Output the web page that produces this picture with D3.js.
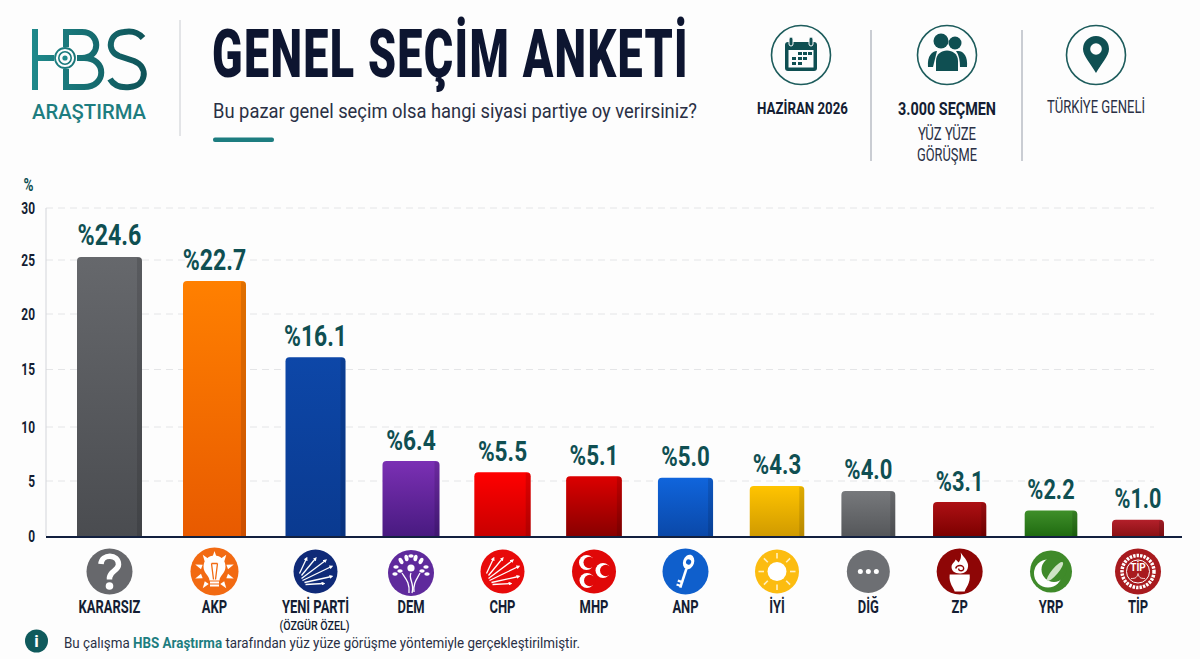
<!DOCTYPE html>
<html lang="tr">
<head>
<meta charset="utf-8">
<title>Genel Seçim Anketi</title>
<script src="https://cdn.jsdelivr.net/npm/d3@7"></script>
<style>
    html, body { margin: 0; padding: 0; background: #fdfdfd; overflow: hidden; }
    text { font-family: "Roboto", sans-serif; }
</style>
</head>
<body>
<div id="container"></div>
<script>
"use strict";

// chart data
const parties = ["KARARSIZ", "AKP", "YENİ PARTİ", "DEM", "CHP", "MHP", "ANP", "İYİ", "DİĞ", "ZP", "YRP", "TİP"];
// printed labels
const printed = [24.6, 22.7, 16.1, 6.4, 5.5, 5.1, 5.0, 4.3, 4.0, 3.1, 2.2, 1.0];
// bar heights as read against the axis, they sit a little above the printed numbers
const drawn = [25.3, 23.05, 16.1, 6.85, 5.8, 5.45, 5.3, 4.55, 4.1, 3.1, 2.35, 1.5];
const yTicks = [0, 5, 10, 15, 20, 25, 30];
const barTop = ["#66686c", "#ff8000", "#0d47a8", "#7b30b4", "#ff0000", "#dc0000", "#1065dc", "#ffc400", "#77797c", "#ad1014", "#3f8f2a", "#b3202a"];
const barBottom = ["#4a4c50", "#e85a00", "#0a3a90", "#481a80", "#c80000", "#880000", "#0a48a8", "#d09a00", "#55575a", "#7c0000", "#1f6a10", "#8a1014"];
const iconColor = ["#67686c", "#f26a12", "#0f2a78", "#5f2a9c", "#e80a0a", "#e00808", "#0f5fcc", "#fcbc10", "#6d6f73", "#8e0606", "#3f8a2a", "#a81a1e"];

const teal = "#1d7d80", dark = "#0f4f52", ink = "#141d33", soft = "#2a3045";

const svg = d3.select("#container").append("svg")
    .attr("width", 1200)
    .attr("height", 659)
    .style("display", "block");

const defs = svg.append("defs");

// the picture is slightly uneven so both scales get a few anchors
const y = d3.scaleLinear().domain(yTicks).range([536.5, 481, 427, 369.5, 314, 260, 208]);
const x = d3.scaleLinear().domain([0, 1, 2, 3, 7, 10, 11]).range([109.5, 214.5, 315.5, 411, 777, 1051, 1138]);
const barWidth = d3.scaleLinear().domain([0, 1, 2, 3, 11]).range([65, 63, 60, 57, 52]);
const labelSize = d3.scaleLinear().domain([0, 11]).range([29, 27]);

// no condensed face is installed, so text gets squeezed to a share of its natural width
function squeeze(selection, factor) {
    selection.each(function () {
        d3.select(this)
            .attr("textLength", this.getComputedTextLength() * factor)
            .attr("lengthAdjust", "spacingAndGlyphs");
    });
    return selection;
}

// text helper, len squeezes the text to the measured width
function label(parent, str, px, py, size, weight, fill, anchor, len) {
    const t = parent.append("text")
        .attr("x", px)
        .attr("y", py)
        .attr("font-size", size)
        .attr("font-weight", weight)
        .attr("fill", fill)
        .attr("text-anchor", anchor)
        .text(str);
    if (len) t.attr("textLength", len).attr("lengthAdjust", "spacingAndGlyphs");
    return t;
}

// logo
const logo = svg.append("g").attr("fill", "none").attr("stroke-width", 6);
const logoGrad = defs.append("linearGradient").attr("id", "logoGrad")
    .attr("gradientUnits", "userSpaceOnUse").attr("x1", 30).attr("x2", 148).attr("y1", 0).attr("y2", 0);
logoGrad.append("stop").attr("offset", 0).attr("stop-color", "#1f8a8c");
logoGrad.append("stop").attr("offset", 1).attr("stop-color", "#0e5257");
logo.attr("stroke", "url(#logoGrad)");
logo.append("path").attr("d", "M35 29V90M35 58H54");
logo.append("path").attr("d", "M66 29V47M66 69V87H84C107 87 107 58 84 58H77M66 32H82C101 32 101 58 82 58");
logo.append("path").attr("d", "M143 38C137 31 129 31 124 32C109 33 106 51 119 56L134 61C149 67 146 86 130 87C121 88 114 86 110 79");
logo.append("circle").attr("cx", 65).attr("cy", 58).attr("r", 10).attr("stroke-width", 1.8);
logo.append("circle").attr("cx", 65).attr("cy", 58).attr("r", 6.2).attr("stroke-width", 1.6);
logo.append("circle").attr("cx", 65).attr("cy", 58).attr("r", 2.6).attr("stroke", "none").attr("fill", "#1f8a8c");
label(svg, "ARAŞTIRMA", 32, 119, 21, 500, teal, "start", 114);

svg.append("line").attr("x1", 180).attr("x2", 180).attr("y1", 20).attr("y2", 136)
    .attr("stroke", "#c9ccd1").attr("stroke-width", 1);

// title block
label(svg, "GENEL SEÇİM ANKETİ", 212, 77, 67, 900, "#0d1530", "start", 477).attr("letter-spacing", 2);
label(svg, "Bu pazar genel seçim olsa hangi siyasi partiye oy verirsiniz?", 213, 118, 21, 400, soft, "start", 484);
svg.append("rect").attr("x", 213).attr("y", 137.5).attr("width", 61).attr("height", 4.5).attr("rx", 2).attr("fill", teal);

// header info icons
function infoCircle(cx) {
    const g = svg.append("g").attr("transform", `translate(${cx},55)`);
    g.append("circle").attr("r", 29.5).attr("fill", "none").attr("stroke", "#1d5c5c").attr("stroke-width", 1.6);
    return g;
}

const cal = infoCircle(801);
cal.append("rect").attr("x", -16).attr("y", -13).attr("width", 32).attr("height", 29).attr("rx", 3).attr("fill", dark);
cal.append("rect").attr("x", -12.5).attr("y", -5).attr("width", 25).attr("height", 17.5).attr("fill", "#fdfdfd");
[-10, 10].forEach((dx) => {
    cal.append("rect").attr("x", dx - 2).attr("y", -18).attr("width", 4).attr("height", 9).attr("rx", 2)
        .attr("fill", dark).attr("stroke", "#fdfdfd");
});
[[-2, -3], [3, -3], [8, -3], [-8, 2], [-2, 2], [3, 2], [-8, 7], [-2, 7]].forEach(([dx, dy]) => {
    cal.append("rect").attr("x", dx - 1).attr("y", dy).attr("width", 4).attr("height", 3).attr("fill", dark);
});

const ppl = infoCircle(947);
ppl.append("circle").attr("cx", -6).attr("cy", -14).attr("r", 7.5).attr("fill", dark);
ppl.append("circle").attr("cx", 8).attr("cy", -12).attr("r", 6.5).attr("fill", dark);
ppl.append("path").attr("fill", dark).attr("d", "M-19 12C-20 1 -15 -4 -10 -4L-14 12Z");
ppl.append("path").attr("fill", dark).attr("d", "M11 -4C17 -4 21 2 20 12H13C13 6 12 0 9 -4Z");
ppl.append("path").attr("fill", dark).attr("d", "M-11 16V6C-11 -8 11 -8 11 6V16Z");

const pin = infoCircle(1096);
pin.append("path").attr("fill", dark).attr("d", "M0 18C-5 9 -13 1 -13 -6A13 13 0 0 1 13 -6C13 1 5 9 0 18Z");
pin.append("circle").attr("cy", -6).attr("r", 5.8).attr("fill", "#fdfdfd");

label(svg, "HAZİRAN 2026", 802.5, 114, 17, 700, ink, "middle", 91);
label(svg, "3.000 SEÇMEN", 947, 115, 18, 700, ink, "middle", 98);
label(svg, "YÜZ YÜZE", 947, 140, 18, 400, soft, "middle", 58);
label(svg, "GÖRÜŞME", 947, 161, 18, 400, soft, "middle", 60);
label(svg, "TÜRKİYE GENELİ", 1096, 113, 18, 400, soft, "middle", 98);
[871, 1022].forEach((sx) => {
    svg.append("line").attr("x1", sx).attr("x2", sx).attr("y1", 30).attr("y2", 161)
        .attr("stroke", "#b9bdc5").attr("stroke-width", 1.5);
});

// grid and y axis
svg.append("g")
    .selectAll("line")
    .data(yTicks.filter((d) => d > 0))
    .join("line")
    .attr("x1", 46)
    .attr("x2", 1154)
    .attr("y1", (d) => y(d))
    .attr("y2", (d) => y(d))
    .attr("stroke", "#e4e5e7")
    .attr("stroke-dasharray", "7 5");

svg.append("line").attr("x1", 46).attr("x2", 46).attr("y1", 208).attr("y2", 536)
    .attr("stroke", "#d3d5da").attr("stroke-width", 1);

const yAxis = svg.append("g")
    .attr("transform", "translate(35,0)")
    .call(d3.axisLeft(y).tickValues(yTicks).tickSize(0).tickPadding(0).tickFormat(d3.format("d")));
yAxis.select(".domain").remove();
yAxis.selectAll("text")
    .attr("font-size", 17)
    .attr("font-weight", 700)
    .attr("fill", ink)
    .style("font-family", "Roboto")
    .call(squeeze, 0.7);

label(svg, "%", 28.5, 191, 18, 700, dark, "middle").call(squeeze, 0.75);

// bars
const idx = d3.range(parties.length);
idx.forEach((i) => {
    const grad = defs.append("linearGradient").attr("id", `bar${i}`)
        .attr("x1", 0).attr("x2", 0).attr("y1", 0).attr("y2", 1);
    grad.append("stop").attr("offset", 0).attr("stop-color", barTop[i]);
    grad.append("stop").attr("offset", 1).attr("stop-color", barBottom[i]);
});

function barPath(i, left, right) {
    const top = y(drawn[i]), r = 4;
    return `M${left} ${y(0)}V${top + r}Q${left} ${top} ${left + r} ${top}H${right - r}Q${right} ${top} ${right} ${top + r}V${y(0)}Z`;
}

const bars = svg.append("g").selectAll("g").data(idx).join("g");
bars.append("path")
    .attr("d", (i) => barPath(i, x(i) - barWidth(i) / 2, x(i) + barWidth(i) / 2))
    .attr("fill", (i) => `url(#bar${i})`);
// darker strip along the right side
bars.append("path")
    .attr("d", (i) => {
        const right = x(i) + barWidth(i) / 2, top = y(drawn[i]);
        return `M${right - 5} ${y(0)}V${top + 1}H${right - 4}Q${right} ${top} ${right} ${top + 4}V${y(0)}Z`;
    })
    .attr("fill", "#000")
    .attr("fill-opacity", 0.12);

bars.append("text")
    .attr("x", (i) => x(i))
    .attr("y", (i) => y(drawn[i]) - 11.5)
    .attr("text-anchor", "middle")
    .attr("font-size", (i) => labelSize(i))
    .attr("font-weight", 700)
    .attr("fill", dark)
    .text((i) => "%" + printed[i].toFixed(1))
    .call(squeeze, 0.8);

// base line
svg.append("line").attr("x1", 46).attr("x2", 1182).attr("y1", 537).attr("y2", 537)
    .attr("stroke", "#12203f").attr("stroke-width", 2);

// party icons, every one is drawn around its own centre
const white = "#fff";

defs.append("marker").attr("id", "tip")
    .attr("viewBox", "0 0 6 6").attr("refX", 3).attr("refY", 3)
    .attr("markerWidth", 3).attr("markerHeight", 3).attr("orient", "auto")
    .append("path").attr("d", "M0 0L6 3L0 6Z").attr("fill", white);

function sweep(g) {
    // the six arrows of the CHP style emblem
    [[-16, 2, -9, -13], [-14, 4, 0, -13], [-14, 7, 10, -11], [-13, 9, 16, -5], [-11, 11, 16, 5], [-10, 13, 8, 12]]
        .forEach(([x1, y1, x2, y2]) => {
            g.append("line")
                .attr("x1", x1).attr("y1", y1)
                .attr("x2", x2).attr("y2", y2)
                .attr("stroke", white).attr("stroke-width", 1.3)
                .attr("marker-end", "url(#tip)");
        });
}

function crescent(g, cx, cy, col) {
    g.append("circle").attr("cx", cx).attr("cy", cy).attr("r", 7.5).attr("fill", white);
    g.append("circle").attr("cx", cx + 2.8).attr("cy", cy).attr("r", 5.8).attr("fill", col);
}

const iconDraw = {
    "KARARSIZ": (g) => {
        g.append("path").attr("fill", "none").attr("stroke", white).attr("stroke-width", 5.5)
            .attr("d", "M-8.5 -7.5C-8 -18 9 -18 9 -7C9 -1 1 -1 0 6V8");
        g.append("circle").attr("cy", 14.5).attr("r", 3.8).attr("fill", white);
    },
    "AKP": (g) => {
        [-90, -55, -125, -20, -160, 20, 160, 55, 125].forEach((a) => {
            g.append("g").attr("transform", `rotate(${a + 90})`)
                .append("path").attr("d", "M-2.4 -13.5L0 -20.5L2.4 -13.5Z").attr("fill", white);
        });
        g.append("path").attr("fill", white)
            .attr("d", "M-5 9C-5 4 -11 2 -11 -5A11 11 0 0 1 11 -5C11 2 5 4 5 9Z");
        g.append("path").attr("fill", "none").attr("stroke", "#f26a12").attr("stroke-width", 1.3)
            .attr("d", "M-3 -8L-1 8M3 -8L1 8M-3 -8H3");
        g.append("rect").attr("x", -4.5).attr("y", 10).attr("width", 9).attr("height", 2).attr("fill", white);
        g.append("rect").attr("x", -4.5).attr("y", 13).attr("width", 9).attr("height", 2).attr("fill", white);
    },
    "YENİ PARTİ": sweep,
    "DEM": (g) => {
        g.append("circle").attr("cy", -5).attr("r", 3.6).attr("fill", white);
        [-4, -10, 10, 4].forEach((a, k) => {
            g.append("ellipse").attr("cx", [-4.5, -10, 10, 4.5][k]).attr("cy", [-15, -12, -12, -15][k])
                .attr("rx", 2).attr("ry", 3.4).attr("fill", white)
                .attr("transform", `rotate(${a * 3} ${[-4.5, -10, 10, 4.5][k]} ${[-15, -12, -12, -15][k]})`);
        });
        [[0, -17], [-15, -6], [15, -6], [-16, 1], [16, 1], [-11, -2], [11, -2]].forEach(([ex, ey]) => {
            g.append("ellipse").attr("cx", ex).attr("cy", ey).attr("rx", 2.7).attr("ry", 1.8).attr("fill", white);
        });
        g.append("path").attr("fill", "none").attr("stroke", white).attr("stroke-width", 1.3)
            .attr("d", "M-2 20C-1 10 -5 6 -9 0M1 20C4 10 -3 6 0 0M3 19C2 10 6 6 9 0");
    },
    "CHP": sweep,
    "MHP": (g) => {
        crescent(g, -7.5, -9, iconColor[5]);
        crescent(g, -7, 9, iconColor[5]);
        crescent(g, 9, -1, iconColor[5]);
    },
    "ANP": (g) => {
        g.append("g").attr("transform", "rotate(18)").call((k) => {
            k.append("ellipse").attr("cy", -10).attr("rx", 5.5).attr("ry", 7.5).attr("fill", white);
            k.append("circle").attr("cy", -10).attr("r", 2.6).attr("fill", iconColor[6]);
            k.append("rect").attr("x", -1.3).attr("y", -3).attr("width", 2.6).attr("height", 20).attr("fill", white);
            k.append("rect").attr("x", -4.5).attr("y", 10).attr("width", 4).attr("height", 2.2).attr("fill", white);
            k.append("rect").attr("x", -4.5).attr("y", 14).attr("width", 4).attr("height", 2.2).attr("fill", white);
        });
    },
    "İYİ": (g) => {
        g.append("circle").attr("r", 9.5).attr("fill", white);
        d3.range(8).forEach((k) => {
            g.append("rect").attr("x", -0.8).attr("y", -18.5).attr("width", 1.6).attr("height", 5.5)
                .attr("fill", "#fff0c0").attr("transform", `rotate(${k * 45})`);
        });
    },
    "DİĞ": (g) => {
        [-8, 0, 8].forEach((dx) => g.append("circle").attr("cx", dx).attr("r", 2.5).attr("fill", white));
    },
    "ZP": (g) => {
        g.append("path").attr("fill", white).attr("d", "M-10 3H10C11 12 6 16 5 20H-5C-6 16 -11 12 -10 3Z");
        g.append("path").attr("fill", white).attr("d", "M1 -19C5 -13 10 -9 8 -3C7 1 3 2 0 2C-5 2 -9 -1 -8 -6C-7 -9 -5 -9 -4 -12C-2 -10 -1 -9 -1 -9C1 -12 2 -15 1 -19Z");
        g.append("path").attr("fill", "none").attr("stroke", iconColor[9]).attr("stroke-width", 1.4)
            .attr("d", "M-4 -3C-3 -7 4 -7 4 -3C4 0 -1 0 -1 -3");
    },
    "YRP": (g) => {
        g.append("circle").attr("cx", -3).attr("cy", 2).attr("r", 14).attr("fill", white);
        g.append("circle").attr("cx", 3).attr("cy", -2).attr("r", 12.5).attr("fill", iconColor[10]);
        g.append("g").attr("transform", "translate(4,0) rotate(40)")
            .append("ellipse").attr("rx", 3.2).attr("ry", 12).attr("fill", "#cfe3c6");
    },
    "TİP": (g) => {
        g.append("circle").attr("r", 16).attr("fill", "none").attr("stroke", white)
            .attr("stroke-width", 3.5).attr("stroke-dasharray", "2.4 1.1");
        g.append("circle").attr("r", 11.5).attr("fill", iconColor[11]).attr("stroke", white);
        g.append("text").attr("y", -0.5).attr("text-anchor", "middle").attr("font-size", 10)
            .attr("font-weight", 700).attr("fill", white).text("TİP");
        g.append("path").attr("fill", "none").attr("stroke", white).attr("stroke-width", 0.8)
            .attr("d", "M-7 7C-2 7 -1 6 0 2C1 6 2 7 7 7");
    },
};

const iconRadius = [23, 24, 22, 23, 22, 22, 23, 22, 21.5, 23, 21, 23];
const icons = svg.append("g").selectAll("g").data(idx).join("g")
    .attr("transform", (i) => `translate(${x(i)},${i === 3 ? 573 : 571.5})`);
icons.append("circle")
    .attr("r", (i) => iconRadius[i])
    .attr("fill", (i) => iconColor[i]);
icons.each(function (i) {
    iconDraw[parties[i]](d3.select(this));
});

// party names
svg.append("g").selectAll("text").data(idx).join("text")
    .attr("x", (i) => x(i))
    .attr("y", 613)
    .attr("text-anchor", "middle")
    .attr("font-size", 17.5)
    .attr("font-weight", 700)
    .attr("fill", ink)
    .text((i) => parties[i])
    .call(squeeze, 0.74);
label(svg, "(ÖZGÜR ÖZEL)", 314.5, 630, 12, 500, ink, "middle", 70);

// footnote
svg.append("circle").attr("cx", 36.5).attr("cy", 641).attr("r", 11.5).attr("fill", "#0f5a5c");
label(svg, "i", 36.5, 647, 17, 700, white, "middle");
const note = label(svg, "Bu çalışma ", 64, 648, 14, 400, soft, "start", 516);
note.append("tspan").attr("font-weight", 700).attr("fill", teal).text("HBS Araştırma");
note.append("tspan").text(" tarafından yüz yüze görüşme yöntemiyle gerçekleştirilmiştir.");
</script>
</body>
</html>
